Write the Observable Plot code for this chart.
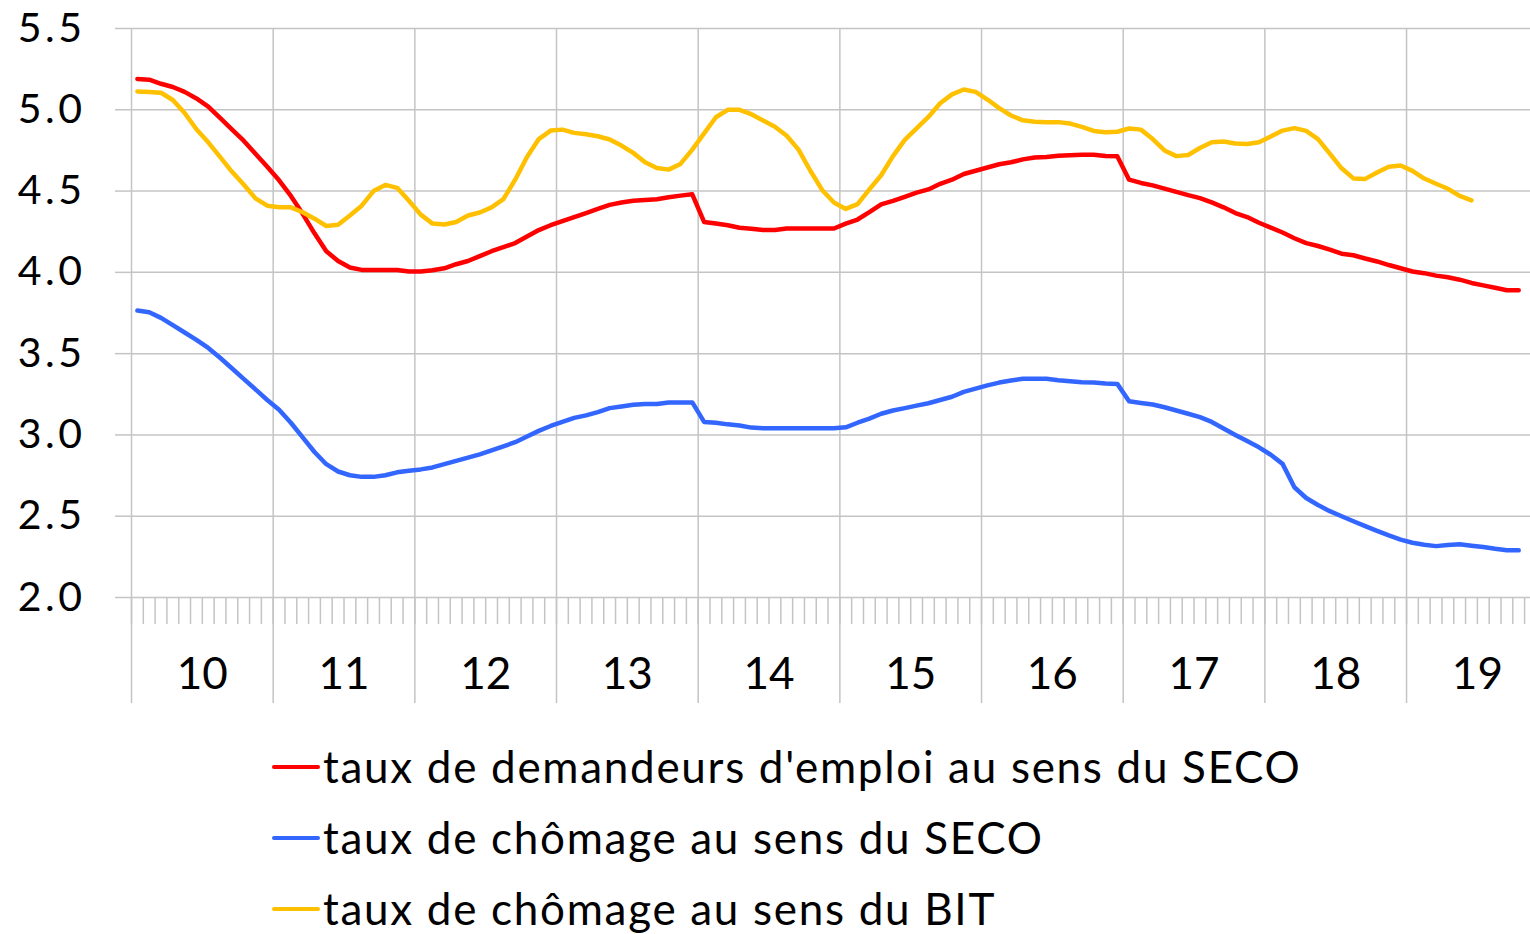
<!DOCTYPE html>
<html>
<head>
<meta charset="utf-8">
<script src="https://cdn.jsdelivr.net/npm/d3@7"></script>
<script src="https://cdn.jsdelivr.net/npm/@observablehq/plot@0.6"></script>
<style>
  html, body { margin: 0; padding: 0; background: #fff; }
  body { width: 1530px; height: 934px; position: relative; overflow: hidden; font-family: Lato, "Open Sans", sans-serif; }
  #chart svg { display: block; }
  #chart svg g[aria-label="y-axis tick label"] text { letter-spacing: 3.5px; }
  #legend { position: absolute; left: 272px; top: 731px; }
  .row { display: flex; align-items: center; height: 71px; line-height: 71px; font-size: 44px; letter-spacing: 1.7px; color: #000; white-space: nowrap; }
  .sw { width: 48px; height: 4px; border-radius: 2px; margin-right: 3px; }
</style>
</head>
<body>
<div id="chart"></div>
<div id="legend"></div>
<script>
// Monthly series, Jan 2010 = index 0
const yearLabels = ["10","11","12","13","14","15","16","17","18","19"];
const yTicks = [2.0, 2.5, 3.0, 3.5, 4.0, 4.5, 5.0, 5.5];

const seriesNames = [
  "taux de demandeurs d'emploi au sens du SECO",
  "taux de chômage au sens du SECO",
  "taux de chômage au sens du BIT"
];
const seriesColors = ["#ff0000", "#3366ff", "#ffc000"];

const demandeursSECO = [
  5.19,5.185,5.16,5.14,5.11,5.07,5.02,4.95,4.88,4.81,4.73,4.65,
  4.566,4.47,4.36,4.24,4.13,4.07,4.03,4.015,4.015,4.015,4.015,4.005,
  4.005,4.013,4.025,4.05,4.07,4.10,4.13,4.155,4.18,4.22,4.26,4.29,
  4.315,4.34,4.365,4.39,4.415,4.43,4.44,4.445,4.45,4.462,4.472,4.48,
  4.31,4.30,4.29,4.274,4.268,4.26,4.26,4.27,4.27,4.27,4.27,4.27,
  4.30,4.325,4.37,4.418,4.44,4.465,4.49,4.51,4.545,4.57,4.605,4.625,
  4.645,4.665,4.677,4.695,4.707,4.71,4.717,4.72,4.724,4.724,4.716,4.714,
  4.57,4.55,4.535,4.515,4.495,4.475,4.457,4.43,4.40,4.365,4.34,4.305,
  4.275,4.245,4.21,4.18,4.162,4.14,4.115,4.105,4.085,4.067,4.045,4.025,
  4.005,3.995,3.98,3.97,3.955,3.935,3.92,3.905,3.89,3.89
];

const chomageSECO = [
  3.765,3.755,3.72,3.675,3.63,3.585,3.535,3.475,3.41,3.345,3.28,3.215,
  3.155,3.075,2.985,2.895,2.82,2.775,2.752,2.742,2.742,2.752,2.77,2.78,
  2.788,2.80,2.82,2.84,2.86,2.88,2.905,2.93,2.955,2.99,3.025,3.055,
  3.08,3.105,3.12,3.14,3.165,3.175,3.185,3.19,3.19,3.20,3.20,3.20,
  3.08,3.075,3.065,3.058,3.045,3.041,3.041,3.041,3.041,3.041,3.041,3.041,
  3.047,3.075,3.10,3.13,3.15,3.165,3.18,3.195,3.215,3.235,3.265,3.285,
  3.305,3.322,3.335,3.345,3.345,3.345,3.336,3.33,3.324,3.322,3.316,3.314,
  3.207,3.197,3.187,3.17,3.15,3.13,3.11,3.08,3.04,3.0,2.962,2.924,
  2.878,2.822,2.678,2.612,2.569,2.531,2.50,2.469,2.439,2.41,2.382,2.356,
  2.337,2.324,2.316,2.323,2.327,2.319,2.311,2.30,2.291,2.29
];

const chomageBIT = [
  5.113,5.11,5.105,5.06,4.98,4.88,4.80,4.71,4.62,4.54,4.455,4.41,
  4.40,4.40,4.37,4.33,4.285,4.293,4.35,4.41,4.50,4.538,4.52,4.44,
  4.355,4.30,4.294,4.31,4.35,4.368,4.40,4.45,4.57,4.71,4.82,4.872,
  4.878,4.858,4.85,4.837,4.817,4.78,4.735,4.677,4.642,4.632,4.667,4.755,
  4.855,4.954,5.00,5.00,4.973,4.934,4.896,4.84,4.755,4.625,4.507,4.43,
  4.39,4.42,4.51,4.597,4.715,4.815,4.885,4.956,5.04,5.095,5.125,5.11,
  5.063,5.01,4.965,4.935,4.926,4.924,4.924,4.915,4.895,4.87,4.862,4.865,
  4.885,4.878,4.82,4.75,4.715,4.722,4.765,4.80,4.805,4.793,4.79,4.80,
  4.836,4.872,4.887,4.87,4.82,4.73,4.64,4.578,4.575,4.614,4.65,4.657,
  4.624,4.577,4.545,4.514,4.47,4.443
];

const allSeries = [demandeursSECO, chomageSECO, chomageBIT];
const rows = allSeries.flatMap((vals, s) =>
  vals.map((v, i) => ({series: seriesNames[s], t: i + 0.5, v})));

const nMonths = demandeursSECO.length;
const monthTicks = d3.range(0, nMonths + 1);
const yearStarts = yearLabels.map((_, k) => k * 12);
const yearMids = yearLabels.map((_, k) => k * 12 + 6);

const gridColor = "#c4c4c4";

const chart = Plot.plot({
  width: 1530,
  height: 710,
  marginTop: 28,
  marginBottom: 113,
  marginLeft: 131,
  marginRight: 0,
  style: {fontFamily: "Lato, 'Open Sans', sans-serif", background: "#fff"},
  x: {type: "linear", domain: [0, nMonths + 0.5], axis: null},
  y: {domain: [2, 5.5], axis: null},
  color: {domain: seriesNames, range: seriesColors},
  marks: [
    Plot.gridY(yTicks, {stroke: gridColor, strokeOpacity: 1, strokeWidth: 1.5}),
    Plot.gridX(yearStarts, {stroke: gridColor, strokeOpacity: 1, strokeWidth: 1.5}),
    Plot.axisY(yTicks, {
      label: null, tickSize: 16, tickPadding: 30, stroke: gridColor, strokeWidth: 1.5, color: "#000",
      fontSize: 41, tickFormat: d3.format(".1f")
    }),
    Plot.axisX(monthTicks, {
      label: null, tickSize: 27, stroke: gridColor, strokeWidth: 1.5, tickFormat: () => ""
    }),
    Plot.axisX(yearStarts, {
      label: null, tickSize: 106, stroke: gridColor, strokeWidth: 1.5, tickFormat: () => ""
    }),
    Plot.axisX(yearMids, {
      label: null, tickSize: 0, tickPadding: 60, color: "#000", fontSize: 44,
      tickFormat: (d) => yearLabels[(d - 6) / 12]
    }),
    Plot.line(rows, {
      x: "t", y: "v", z: "series", stroke: "series",
      strokeWidth: 4.5, strokeLinejoin: "round", strokeLinecap: "round"
    })
  ]
});
document.getElementById("chart").append(chart);

const legend = document.getElementById("legend");
seriesNames.forEach((name, s) => {
  const row = document.createElement("div");
  row.className = "row";
  const sw = document.createElement("div");
  sw.className = "sw";
  sw.style.background = seriesColors[s];
  const label = document.createElement("span");
  label.textContent = name;
  row.append(sw, label);
  legend.append(row);
});
</script>
</body>
</html>
